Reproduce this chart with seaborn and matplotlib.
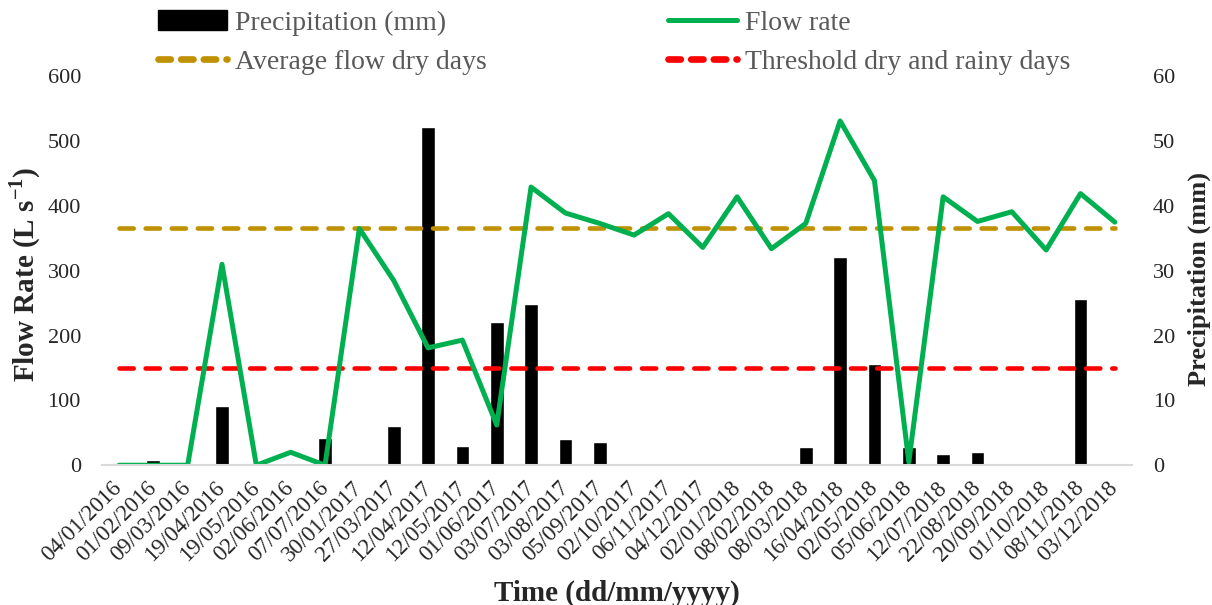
#! /usr/bin/env python3

import numpy as np
import pandas as pd
import seaborn as sns
import matplotlib
matplotlib.use("Agg")
import matplotlib.pyplot as plt
from matplotlib.patches import Patch
from matplotlib.lines import Line2D

sns.set_style("white")
plt.rcParams['font.family'] = ['Liberation Serif', 'DejaVu Serif']
plt.rcParams['mathtext.fontset'] = 'custom'
plt.rcParams['mathtext.rm'] = 'Liberation Serif'
plt.rcParams['mathtext.bf'] = 'Liberation Serif:bold'

dates = ["04/01/2016", "01/02/2016", "09/03/2016", "19/04/2016", "19/05/2016",
         "02/06/2016", "07/07/2016", "30/01/2017", "27/03/2017", "12/04/2017",
         "12/05/2017", "01/06/2017", "03/07/2017", "03/08/2017", "05/09/2017",
         "02/10/2017", "06/11/2017", "04/12/2017", "02/01/2018", "08/02/2018",
         "08/03/2018", "16/04/2018", "02/05/2018", "05/06/2018", "12/07/2018",
         "22/08/2018", "20/09/2018", "01/10/2018", "08/11/2018", "03/12/2018"]

precip = [0, 0.8, 0, 9.1, 0, 0, 4.2, 0, 6.1, 52.2,
          3.0, 22.1, 24.8, 4.0, 3.6, 0, 0, 0, 0, 0,
          2.8, 32.1, 15.6, 2.8, 1.7, 2.1, 0, 0, 25.7, 0]

flow = [0, 0, 0, 310, 0, 20, 0, 365, 285, 181,
        193, 62, 429, 389, 373, 355, 388, 336, 414, 334,
        373, 531, 439, 5, 414, 376, 391, 332, 419, 375]

avg_flow_dry = 366
threshold = 150

df = pd.DataFrame({"pos": np.arange(len(dates)), "date": dates,
                   "precip": precip, "flow": flow})

fig = plt.figure(figsize=(12.12, 6.05), dpi=100)
ax = fig.add_axes([0.084, 0.231, 0.850, 0.643])
ax2 = ax.twinx()

# bars on the right axis, drawn behind the lines
sns.barplot(data=df, x="pos", y="precip", ax=ax2, color="black",
            width=0.4, native_scale=True, saturation=1)
ax.set_zorder(ax2.get_zorder() + 1)
ax.patch.set_visible(False)

green = "#00B050"
gold = "#BF9000"
red = "#FF0000"

ax.hlines(avg_flow_dry, df.pos.iloc[0], df.pos.iloc[-1], color=gold, lw=3.3,
          linestyles=(0, (3.1, 2.6)), capstyle="round")
ax.hlines(threshold, df.pos.iloc[0], df.pos.iloc[-1], color=red, lw=3.3,
          linestyles=(0, (3.1, 2.6)), capstyle="round")
sns.lineplot(data=df, x="pos", y="flow", ax=ax, color=green, lw=3.6)

ax.set_xlim(-0.5, len(dates) - 0.5)
ax.set_ylim(0, 600)
ax2.set_ylim(0, 60)
ax.set_yticks(range(0, 601, 100))
ax2.set_yticks(range(0, 61, 10))

ax.set_xticks(df.pos)
ax.set_xticklabels(dates, rotation=45, ha="right", va="center",
                   rotation_mode="anchor", fontsize=16.5)
ax.set_xticks(np.arange(-0.5, len(dates), 1), minor=True)
ax.tick_params(axis="x", which="major", length=0, pad=14)
ax.tick_params(axis="x", which="minor", length=7, width=1.2, color="#D9D9D9")
ax.tick_params(axis="y", length=0, labelsize=16, pad=15)
ax2.tick_params(axis="y", length=0, labelsize=16, pad=15)

for a in (ax, ax2):
    for s in ("top", "left", "right", "bottom"):
        a.spines[s].set_visible(False)
ax.spines["bottom"].set_visible(True)
ax.spines["bottom"].set_color("#D9D9D9")
ax.spines["bottom"].set_linewidth(1.5)

ax.set_xlabel("Time (dd/mm/yyyy)", fontsize=21, fontweight="bold")
ax.xaxis.set_label_coords(0.5, -0.295)
ax.set_ylabel(r"Flow Rate (L s$^{\mathbf{-1}}$)", fontsize=21, fontweight="bold")
ax.yaxis.set_label_coords(-0.057, 0.49)
ax2.set_ylabel("Precipitation (mm)", fontsize=19, fontweight="bold")
ax2.yaxis.set_label_coords(1.054, 0.48)

handles = [Patch(color="black"),
           Line2D([], [], color=gold, lw=4.8, ls=(0, (1.85, 1.55)), dash_capstyle="round"),
           Line2D([], [], color=green, lw=3.6),
           Line2D([], [], color=red, lw=4.8, ls=(0, (1.85, 1.55)), dash_capstyle="round")]
labels = ["Precipitation (mm)", "Average flow dry days",
          "Flow rate", "Threshold dry and rainy days"]
leg = fig.legend(handles, labels, ncol=2, loc="upper left",
                 bbox_to_anchor=(0.130, 0.983), frameon=False, fontsize=20,
                 handlelength=2.5, handletextpad=0.3, columnspacing=6.5,
                 labelspacing=0.5, borderpad=0, borderaxespad=0)
for t in leg.get_texts():
    t.set_color("#595959")

plt.savefig("out.png", dpi=100)
